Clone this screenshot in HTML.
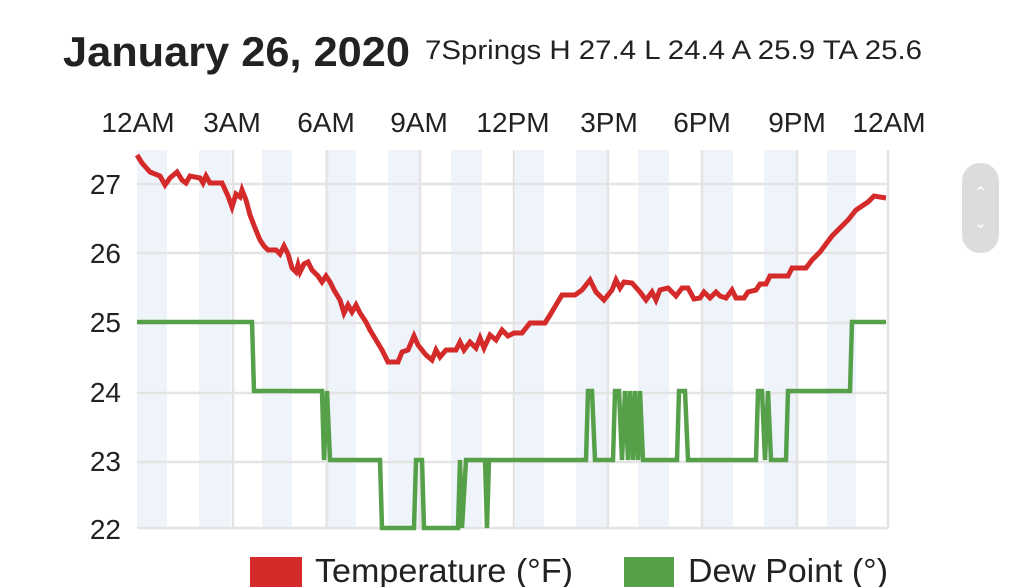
<!DOCTYPE html>
<html><head><meta charset="utf-8"><style>
html,body{margin:0;padding:0;background:#fff;width:1024px;height:587px;overflow:hidden;font-family:"Liberation Sans",sans-serif;}
</style></head><body>
<svg width="1024" height="587" xmlns="http://www.w3.org/2000/svg" font-family="Liberation Sans, sans-serif">
<text x="63" y="66" font-size="42" font-weight="bold" fill="#222" textLength="347" lengthAdjust="spacingAndGlyphs">January 26, 2020</text>
<text x="425" y="59" font-size="27" fill="#222" textLength="497" lengthAdjust="spacingAndGlyphs">7Springs H 27.4 L 24.4 A 25.9 TA 25.6</text>
<g font-size="28" fill="#222" text-anchor="middle">
<text x="138" y="132">12AM</text><text x="232" y="132">3AM</text><text x="326" y="132">6AM</text><text x="419" y="132">9AM</text><text x="513" y="132">12PM</text><text x="609" y="132">3PM</text><text x="702" y="132">6PM</text><text x="797" y="132">9PM</text><text x="889" y="132">12AM</text>
</g>
<g fill="#eef4fa">
<rect x="137" y="150" width="30" height="378"/><rect x="199" y="150" width="32" height="378"/><rect x="262" y="150" width="30" height="378"/><rect x="325" y="150" width="31" height="378"/><rect x="388" y="150" width="31" height="378"/><rect x="451" y="150" width="31" height="378"/><rect x="516" y="150" width="28" height="378"/><rect x="576" y="150" width="31" height="378"/><rect x="638" y="150" width="31" height="378"/><rect x="703" y="150" width="30" height="378"/><rect x="764" y="150" width="32" height="378"/><rect x="827" y="150" width="29" height="378"/>
</g>
<g stroke="#e4e4e4" stroke-width="2.5" fill="none">
<line x1="137" y1="184" x2="888" y2="184"/><line x1="137" y1="253" x2="888" y2="253"/><line x1="137" y1="323" x2="888" y2="323"/><line x1="137" y1="393" x2="888" y2="393"/><line x1="137" y1="462" x2="888" y2="462"/><line x1="137" y1="528" x2="888" y2="528"/>
<line x1="233" y1="150" x2="233" y2="528"/><line x1="327" y1="150" x2="327" y2="528"/><line x1="420" y1="150" x2="420" y2="528"/><line x1="514" y1="150" x2="514" y2="528"/><line x1="608" y1="150" x2="608" y2="528"/><line x1="702" y1="150" x2="702" y2="528"/><line x1="797" y1="150" x2="797" y2="528"/><line x1="888" y1="150" x2="888" y2="528"/>
</g>
<g font-size="28" fill="#222" text-anchor="end">
<text x="121" y="194">27</text><text x="121" y="263">26</text><text x="121" y="332">25</text><text x="121" y="402">24</text><text x="121" y="471">23</text><text x="121" y="539">22</text>
</g>
<polyline fill="none" stroke="#d42a2a" stroke-width="5" stroke-linejoin="miter" points="137,155 142,163 150,172 160,176 165,185 170,178 177,172 182,180 186,183 190,176 200,178 203,183 206,176 210,183 222,183 228,196 232,207 236,194 240,197 242,190 246,200 250,215 255,228 260,240 264,246 268,250 276,250 280,254 284,246 288,254 292,268 296,272 298,265 300,272 304,264 308,262 312,270 318,276 322,282 326,276 330,282 334,290 340,300 344,313 348,305 352,312 356,305 360,313 366,322 370,330 376,340 382,350 388,362 398,362 402,352 408,350 414,336 418,345 426,355 432,360 436,350 440,357 446,350 456,350 460,342 464,350 470,342 476,348 480,338 484,348 490,335 496,340 502,330 508,336 514,333 522,333 530,323 545,323 550,315 556,305 562,295 575,295 582,290 590,280 596,292 604,300 612,290 616,280 620,288 624,282 632,283 640,292 646,300 652,292 656,300 660,290 668,288 676,296 682,288 688,288 694,299 700,298 704,292 710,298 716,292 720,296 726,298 732,290 736,298 744,298 748,292 756,290 760,284 766,284 770,276 788,276 792,268 806,268 812,260 820,252 826,244 832,236 840,228 848,220 856,210 862,206 868,202 874,196 886,198"/>
<polyline fill="none" stroke="#57a04a" stroke-width="4.5" points="137,322 252,322 254,391 322,391 324,460 327,391 330,460 380,460 382,528 414,528 416,460 422,460 424,528 458,528 460,460 462,528 466,460 485,460 487,528 489,460 586,460 588,391 592,391 595,460 613,460 615,391 619,391 622,460 625,391 628,460 630,391 633,460 635,391 638,460 640,391 643,460 677,460 679,391 685,391 688,460 756,460 758,391 762,391 765,460 768,391 771,460 786,460 788,391 850,391 852,322 886,322"/>
<rect x="250" y="557" width="52" height="32" fill="#d42a2a"/>
<text x="315" y="582" font-size="33" fill="#222" textLength="258" lengthAdjust="spacingAndGlyphs">Temperature (°F)</text>
<rect x="624" y="557" width="50" height="32" fill="#57a04a"/>
<text x="688" y="582" font-size="33" fill="#222" textLength="200" lengthAdjust="spacingAndGlyphs">Dew Point (°)</text>
<rect x="962" y="163" width="37" height="90" rx="18" fill="#dcdcdc"/>
<text x="980.5" y="198" font-size="16" fill="#fff" text-anchor="middle">⌃</text>
<text x="980.5" y="228" font-size="16" fill="#fff" text-anchor="middle">⌄</text>
</svg>
</body></html>
